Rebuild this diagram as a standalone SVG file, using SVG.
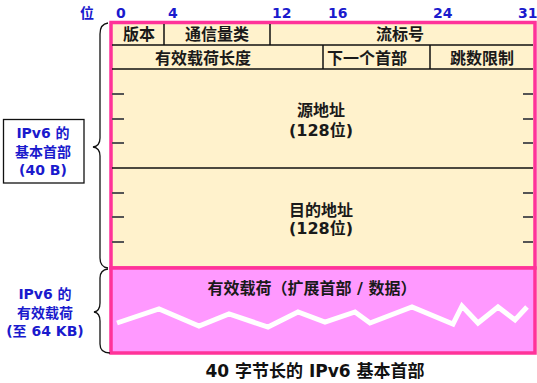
<svg xmlns="http://www.w3.org/2000/svg" width="537" height="383" viewBox="0 0 537 383">
<style>
text{font-family:"DejaVu Sans","Noto Sans CJK SC",sans-serif;font-weight:bold}
.bit{fill:#1a1acd;font-size:14px}
.lbl{fill:#1a1acd;font-size:14px;text-anchor:middle}
.fld{fill:#1a1a1a;font-size:16px;text-anchor:middle}
.div{stroke:#111;stroke-width:1.5}
.tick{stroke:#555;stroke-width:2}
.brace{fill:none;stroke:#111;stroke-width:1.3}
</style>
<rect width="537" height="383" fill="#fff"/>
<g id="bits">
<text class="bit" x="80" y="18">位</text>
<text class="bit" x="116" y="18">0</text>
<text class="bit" x="168" y="18">4</text>
<text class="bit" x="272" y="18">12</text>
<text class="bit" x="328" y="18">16</text>
<text class="bit" x="433" y="18">24</text>
<text class="bit" x="518" y="18">31</text>
</g>
<g id="header">
<rect x="111" y="22.5" width="424" height="245.5" fill="#fff2cc" stroke="#ff3399" stroke-width="3.5"/>
<line class="div" x1="112" y1="45" x2="533" y2="45"/>
<line class="div" x1="112" y1="69" x2="533" y2="69"/>
<line class="div" x1="112" y1="168" x2="533" y2="168"/>
<line class="div" x1="164" y1="24" x2="164" y2="45"/>
<line class="div" x1="270" y1="24" x2="270" y2="45"/>
<line class="div" x1="323" y1="45" x2="323" y2="69"/>
<line class="div" x1="430" y1="45" x2="430" y2="69"/>
<g class="tick">
<line x1="112" y1="94" x2="124" y2="94"/><line x1="112" y1="119" x2="124" y2="119"/><line x1="112" y1="143" x2="124" y2="143"/>
<line x1="112" y1="193" x2="124" y2="193"/><line x1="112" y1="217" x2="124" y2="217"/><line x1="112" y1="242" x2="124" y2="242"/>
<line x1="523" y1="94" x2="533" y2="94"/><line x1="523" y1="119" x2="533" y2="119"/><line x1="523" y1="143" x2="533" y2="143"/>
<line x1="523" y1="193" x2="533" y2="193"/><line x1="523" y1="217" x2="533" y2="217"/><line x1="523" y1="242" x2="533" y2="242"/>
</g>
</g>
<g id="version"><text class="fld" x="139" y="40">版本</text></g>
<g id="traffic-class"><text class="fld" x="217" y="40">通信量类</text></g>
<g id="flow-label"><text class="fld" x="400" y="40">流标号</text></g>
<g id="payload-length"><text class="fld" x="203" y="64">有效载荷长度</text></g>
<g id="next-header"><text class="fld" x="367" y="64">下一个首部</text></g>
<g id="hop-limit"><text class="fld" x="482" y="64">跳数限制</text></g>
<g id="source">
<text class="fld" x="321" y="116">源地址</text>
<text class="fld" x="321" y="136" font-size="14.5">(128位)</text>
</g>
<g id="destination">
<text class="fld" x="321" y="216">目的地址</text>
<text class="fld" x="321" y="234" font-size="14.5">(128位)</text>
</g>
<g id="payload">
<rect x="111" y="268" width="424" height="85" fill="#ff99ff" stroke="#ff3399" stroke-width="3.5"/>
<text class="fld" x="312" y="294">有效载荷（扩展首部 / 数据）</text>
<polyline points="117,323 159,309 199,326 229,314 268,327 298,312 325,322 355,312 370,323 412,307 453,324 462,306 478,323 498,307 515,320 527,307" fill="none" stroke="#fff" stroke-width="5"/>
</g>
<g id="connectors">
<path class="brace" d="M108,23 Q100,24 100,34 L100,138 Q100,146 93,147 Q100,148 100,156 L100,258 Q100,267 108,268"/>
<path class="brace" d="M108,269 Q100,270 100,278 L100,303 Q100,311 94,312 Q100,313 100,321 L100,344 Q100,353 110,353"/>
</g>
<g id="header-label">
<rect x="3.5" y="119.5" width="80.5" height="63.5" fill="#fff" stroke="#111" stroke-width="1.3"/>
<text class="lbl" x="43" y="138">IPv6 的</text>
<text class="lbl" x="43" y="157">基本首部</text>
<text class="lbl" x="43" y="175">(40 B)</text>
</g>
<g id="payload-label">
<text class="lbl" x="45" y="299">IPv6 的</text>
<text class="lbl" x="45" y="318">有效载荷</text>
<text class="lbl" x="45" y="336">(至 64 KB)</text>
</g>
<g id="caption">
<text x="315" y="377" font-size="17" fill="#111" text-anchor="middle">40 字节长的 IPv6 基本首部</text>
</g>
</svg>
